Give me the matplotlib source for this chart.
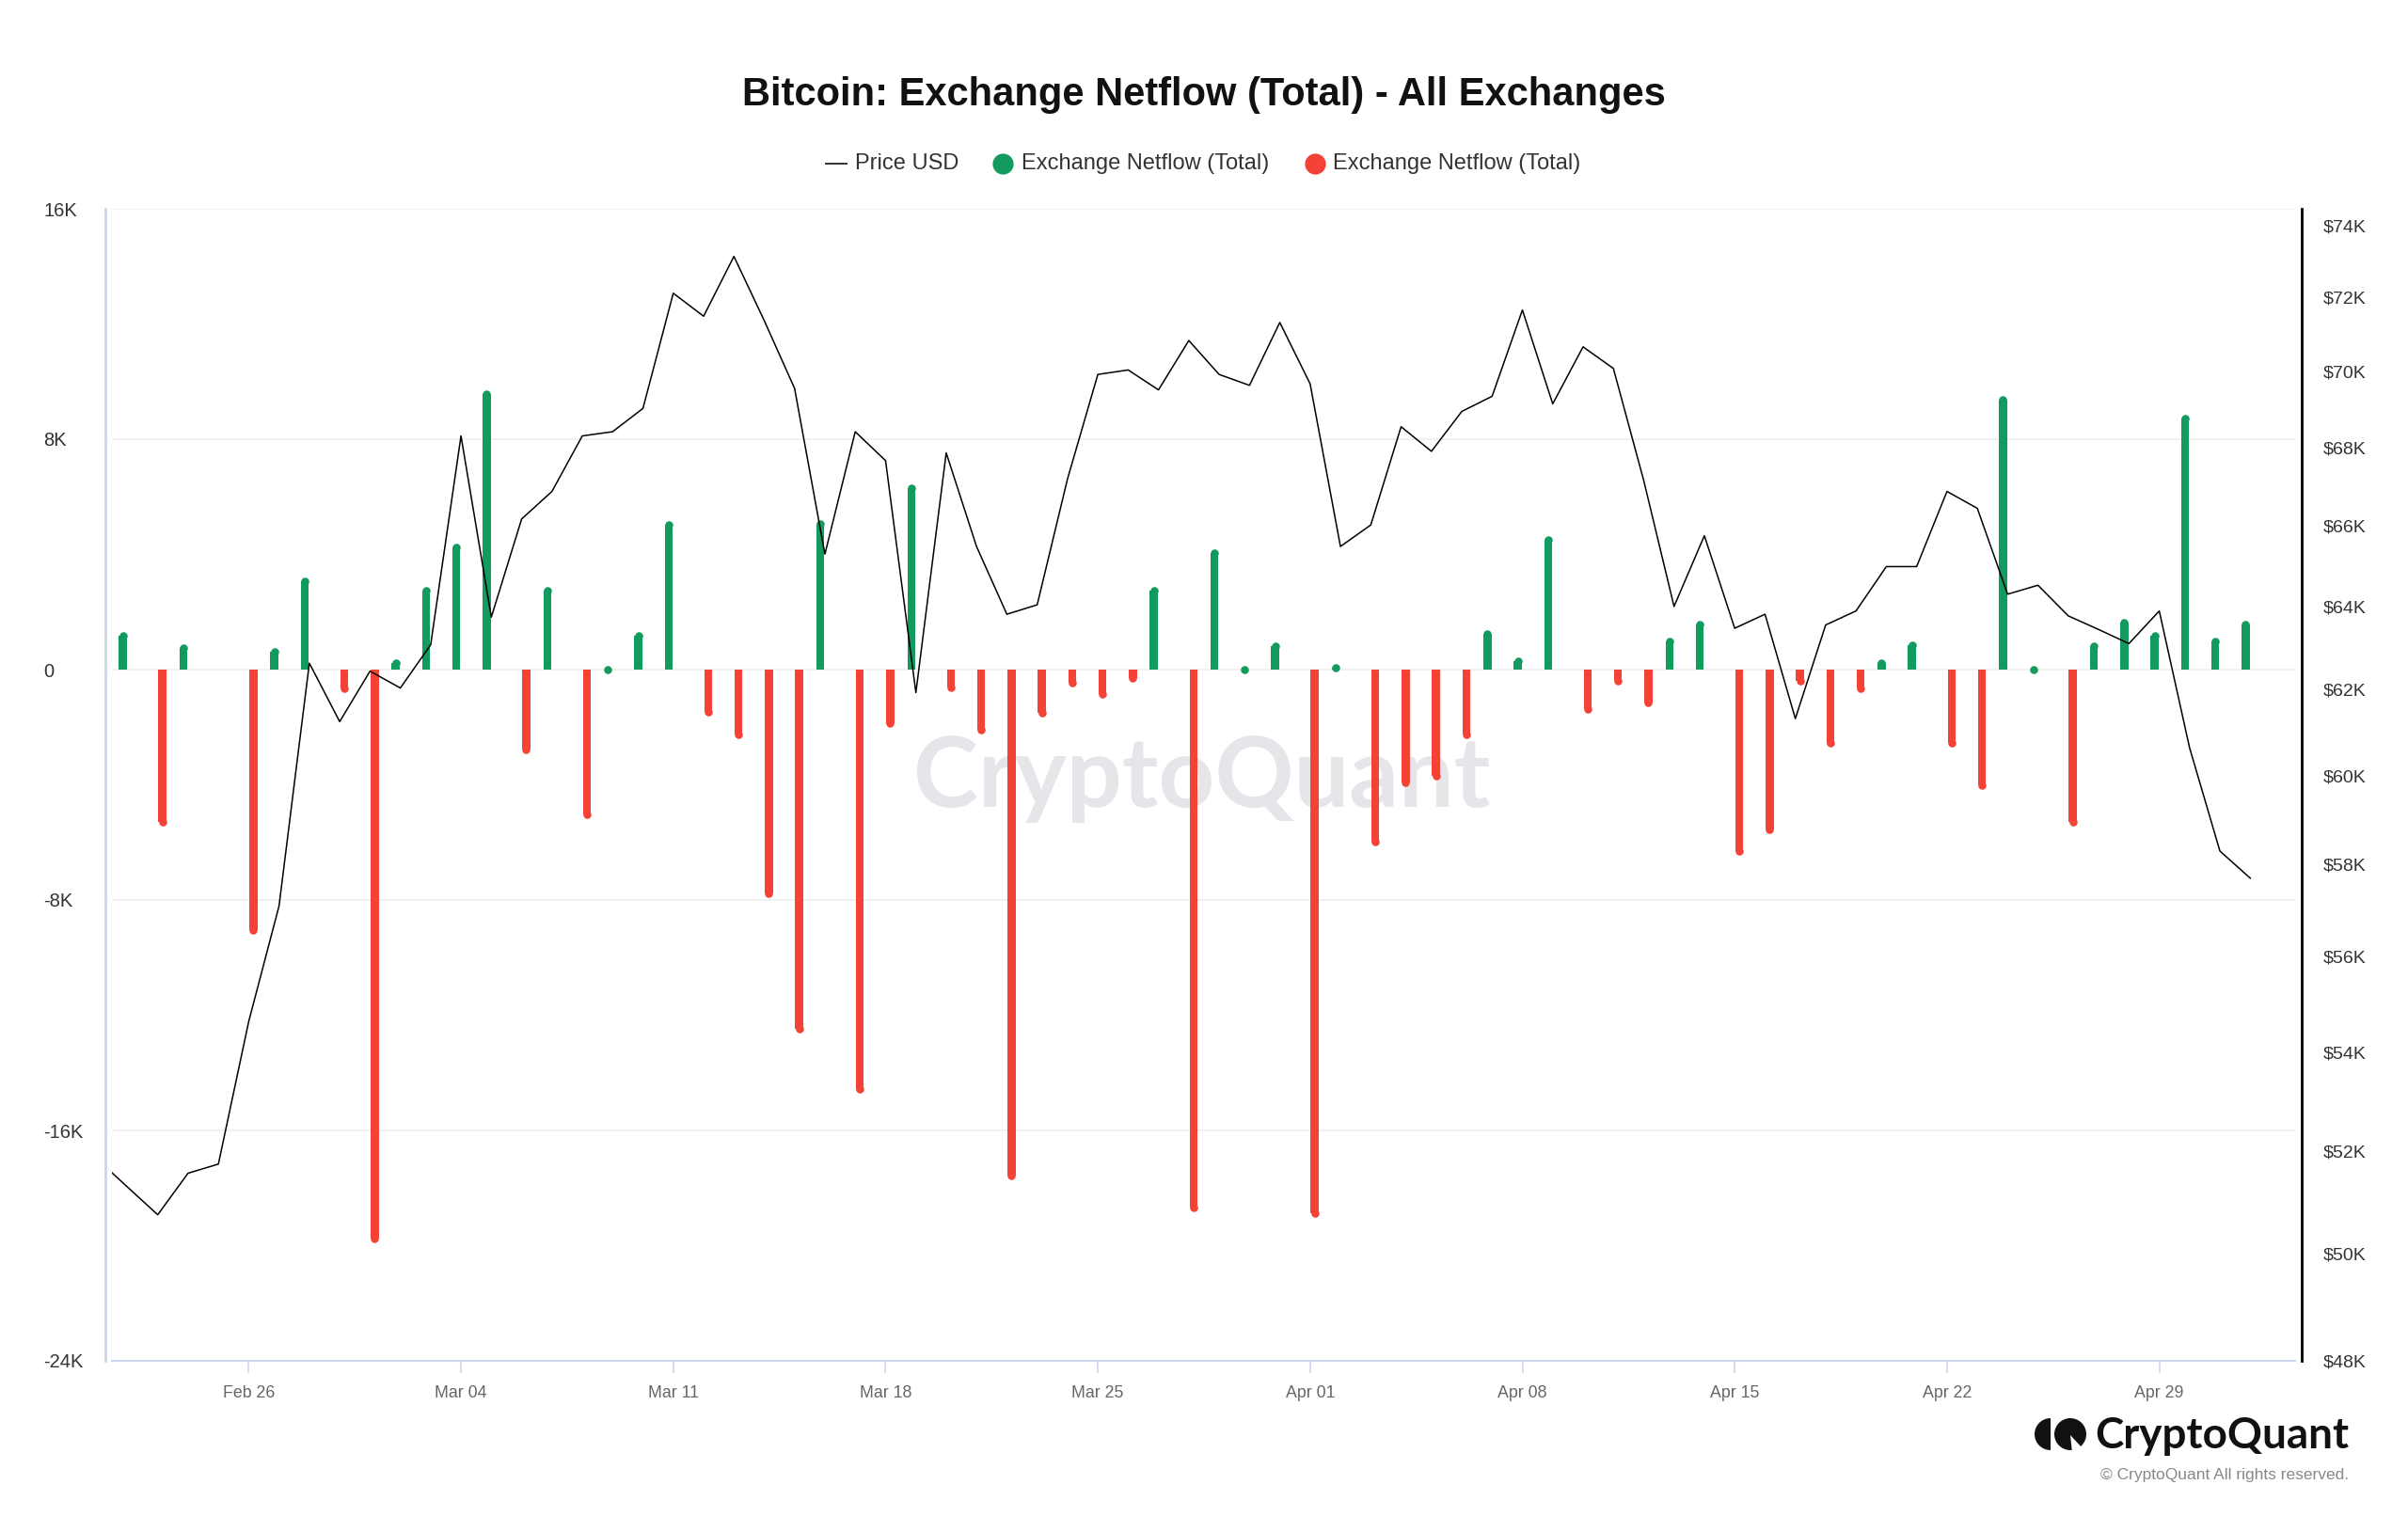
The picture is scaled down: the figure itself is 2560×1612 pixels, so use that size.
import matplotlib
matplotlib.use("Agg")
import matplotlib.pyplot as plt
import matplotlib.dates as mdates
from matplotlib.lines import Line2D
from matplotlib.patches import Wedge, Circle, Polygon
from matplotlib.ticker import FixedLocator, FixedFormatter, NullLocator
import numpy as np
import pandas as pd

# ---------------- data ----------------
netflow_dates = pd.date_range("2024-02-22", "2024-05-02", freq="D")
netflow = [
    1300, -5440, 900, 0, -9170, 750, 3200, -800,                      # Feb 22-29
    -19900, 370, 2880, 4370, 9700, -2930, 2880, -5170, 100, 1330,     # Mar 1-10
    5170, -1600, -2400, -7900, -12600, 5200, -14700, -2000, 6450, -750,  # Mar 11-20
    -2240, -17700, -1650, -600, -1000, -430, 2880, -18800, 4200, 100, 960,  # Mar 21-31
    -19000, 200, -6100, -4050, -3840, -2400, 1390, 430, 4640, -1500,  # Apr 1-10
    -530, -1280, 1120, 1700, -6450, -5700, -530, -2670, -800, 370,    # Apr 11-20
    1000, -2670, -4160, 9500, 50, -5440, 960, 1760, 1330, 8850,       # Apr 21-30
    1120, 1700,                                                       # May 1-2
]

price_dates = pd.date_range("2024-02-21", "2024-05-02", freq="D")
price = [
    51840, 51290, 50750, 51560, 51740, 54630, 57090, 62630, 61250,    # Feb 21-29
    62440, 62040, 63070, 68300, 63740, 66170, 66870, 68300, 68410, 69020,  # Mar 1-10
    72120, 71490, 73140, 71370, 69550, 65290, 68410, 67660, 61930, 67860,  # Mar 11-20
    65480, 63810, 64040, 67190, 69920, 70040, 69510, 70830, 69920, 69630, 71320,  # Mar 21-31
    69670, 65480, 66020, 68540, 67900, 68940, 69340, 71660, 69140, 70660,  # Apr 1-10
    70080, 67150, 64000, 65750, 63470, 63810, 61320, 63550, 63890, 64980,  # Apr 11-20
    64980, 66870, 66440, 64300, 64520, 63770, 63440, 63100, 63890, 60640,  # Apr 21-30
    58300, 57700,                                                      # May 1-2
]

left_ticks = [-24000, -16000, -8000, 0, 8000, 16000]
left_labels = ["-24K", "-16K", "-8K", "0", "8K", "16K"]
right_ticks = list(range(48000, 74001, 2000))
right_labels = ["$%dK" % (t // 1000) for t in right_ticks]
x_tick_dates = pd.date_range("2024-02-26", "2024-04-29", freq="7D")

title = "Bitcoin: Exchange Netflow (Total) - All Exchanges"
series_names = ["Price USD", "Exchange Netflow (Total)", "Exchange Netflow (Total)"]

GREEN = "#139a5f"
RED = "#f44336"

plt.rcParams["font.family"] = ["Liberation Sans", "DejaVu Sans"]

W, H = 2560, 1612
fig = plt.figure(figsize=(W / 100, H / 100), dpi=100)
fig.patch.set_facecolor("white")

L, R, T, B = 119, 2440, 222, 1447
ax = fig.add_axes([L / W, 1 - B / H, (R - L) / W, (B - T) / H])
ax.set_facecolor("white")

ref = mdates.date2num(pd.Timestamp("2024-02-26"))
ax.set_xlim(ref - 4.51, ref + 67.48)
ax.set_ylim(-24000, 16000)

# watermark
ax.text(0.4994, 0.505, "CryptoQuant", transform=ax.transAxes, ha="center", va="center",
        fontsize=75, color="#e5e5ea", family=["Lato", "DejaVu Sans"], fontweight="bold", zorder=0.5)

# grid
for t in left_ticks:
    ax.axhline(t, color="#efefef", lw=1.2, zorder=1)

# bars
xn = mdates.date2num(netflow_dates)
vals = np.array(netflow, dtype=float)
bar_px = 8.5
px_per_unit = (B - T) / 40000.0
r_units = (bar_px / 2) / px_per_unit
day_px = (R - L) / (67.48 + 4.51)
w_days = bar_px / day_px
off = 0.152
cap_size = (bar_px * 72 / 100) ** 2
for sign, color, dx in [(1, GREEN, -off), (-1, RED, off)]:
    m = (vals * sign) > 0
    xs = xn[m] + dx
    v = vals[m]
    body = v - sign * np.minimum(r_units, np.abs(v))
    ax.bar(xs, body, width=w_days, color=color, linewidth=0, zorder=2)
    ax.scatter(xs, body, s=cap_size, color=color, marker="o", linewidths=0, zorder=2)

# axes styling
for s in ["top", "right"]:
    ax.spines[s].set_visible(False)
ax.spines["left"].set_position(("outward", 5))
ax.spines["left"].set_color("#ccd6eb")
ax.spines["left"].set_linewidth(2.0)
ax.spines["bottom"].set_color("#ccd6eb")
ax.spines["bottom"].set_linewidth(1.5)

ax.yaxis.set_major_locator(FixedLocator(left_ticks))
ax.yaxis.set_major_formatter(FixedFormatter(left_labels))
ax.tick_params(axis="y", length=0, pad=47.5, labelsize=14.5, labelcolor="#333333")
for lab in ax.get_yticklabels():
    lab.set_horizontalalignment("left")

ax.xaxis.set_major_locator(FixedLocator(mdates.date2num(x_tick_dates)))
ax.xaxis.set_major_formatter(mdates.DateFormatter("%b %d"))
ax.tick_params(axis="x", direction="out", length=9.4, width=1.2, color="#ccd6eb",
               pad=9, labelsize=12.8, labelcolor="#666666")

# price axis
ax2 = ax.twinx()
ax2.set_yscale("log")
ax2.set_ylim(48000, 74480)
ax2.plot(mdates.date2num(price_dates), price, color="black", lw=1.1, zorder=3)
ax2.yaxis.set_major_locator(FixedLocator(right_ticks))
ax2.yaxis.set_major_formatter(FixedFormatter(right_labels))
ax2.yaxis.set_minor_locator(NullLocator())
ax2.tick_params(axis="y", which="both", length=0, pad=16.6, labelsize=14, labelcolor="#333333")
for s in ["top", "left", "bottom"]:
    ax2.spines[s].set_visible(False)
ax2.spines["right"].set_position(("outward", 5))
ax2.spines["right"].set_color("black")
ax2.spines["right"].set_linewidth(2.0)

# title
fig.text(0.5, 1 - 101 / H, title, ha="center", va="center", fontsize=30,
         fontweight="bold", color="#111111")

# legend (manual)
ly = 1 - 174 / H
fig.add_artist(Line2D([878 / W, 900 / W], [ly, ly], color="#333333", lw=1.4,
                      transform=fig.transFigure))
fig.text(909 / W, ly, series_names[0], ha="left", va="center", fontsize=17, color="#333333")
fig.add_artist(Line2D([1066 / W], [ly], marker="o", markersize=16, color=GREEN,
                      markeredgewidth=0, transform=fig.transFigure))
fig.text(1086 / W, ly, series_names[1], ha="left", va="center", fontsize=17, color="#333333")
fig.add_artist(Line2D([1398 / W], [ly], marker="o", markersize=16, color=RED,
                      markeredgewidth=0, transform=fig.transFigure))
fig.text(1417 / W, ly, series_names[2], ha="left", va="center", fontsize=17, color="#333333")

# logo
fig.text(2497 / W, 1 - 1527 / H, "CryptoQuant", ha="right", va="center", fontsize=33,
         color="#111111", family=["Lato", "DejaVu Sans"], fontweight="bold")
fig.text(2497 / W, 1 - 1569 / H, "\u00a9 CryptoQuant All rights reserved.", ha="right",
         va="center", fontsize=12.5, color="#888888")
axl = fig.add_axes([2160 / W, 1 - 1545 / H, 60 / W, 40 / H])
axl.set_xlim(2160, 2220)
axl.set_ylim(1545, 1505)
axl.axis("off")
axl.add_patch(Wedge((2180, 1525), 17, 90, 270, color="#111111", lw=0))
axl.add_patch(Circle((2201, 1525), 17, color="#111111", lw=0))
axl.add_patch(Polygon([(2201, 1526), (2203, 1545), (2214, 1540)], closed=True, color="white", lw=0))

fig.savefig("out.png", dpi=100, facecolor="white")
